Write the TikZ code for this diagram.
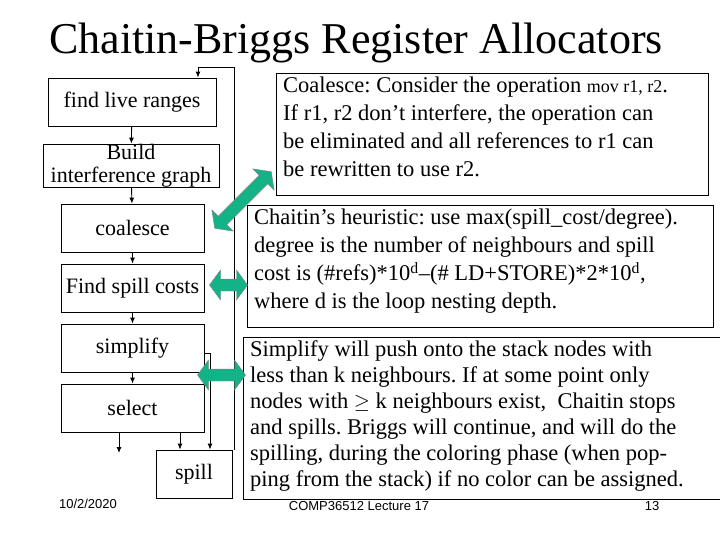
\documentclass[tikz,border=0pt]{standalone}
\usepackage{fontspec}
\setmainfont{Liberation Serif}
\setsansfont{Liberation Sans}
\usetikzlibrary{arrows.meta}
\definecolor{grn}{RGB}{20,178,135}
\frenchspacing
\newcommand{\dblarrow}[4]{% center x, center y, angle, half length
  \begin{scope}[shift={(#1,#2)},rotate=#3]
  \filldraw[fill=grn,draw=black!50,line width=0.4pt] (-#4,0) -- (-#4+11,-15) -- (-#4+11,-6) -- (#4-11,-6) -- (#4-11,-15) -- (#4,0) -- (#4-11,15) -- (#4-11,6) -- (-#4+11,6) -- (-#4+11,15) -- cycle;
  \end{scope}}
\begin{document}
\begin{tikzpicture}[x=1pt,y=-1pt,
  stage/.style={draw,line width=0.8pt,inner sep=0pt,font=\fontsize{22}{23}\selectfont,align=center},
  box/.style={draw,line width=0.8pt},
  txt/.style={anchor=north west,inner sep=0pt,align=left,font=\fontsize{22.5}{28}\selectfont},
  flow/.style={line width=0.9pt,-{Latex[length=6pt,width=5pt]}}]
\useasboundingbox (0,0) rectangle (720,540);
\node[font=\fontsize{44}{44}\selectfont,anchor=base] (title) at (356,54) {Chaitin-Briggs Register Allocators};
% stages
\node[stage,minimum width=168pt,minimum height=48pt] (flr) at (132,102) {find live ranges};
\node[stage,minimum width=176pt,minimum height=43pt] (bld) at (131,165.5) {Build\\interference graph};
\node[stage,minimum width=143pt,minimum height=48pt] (coa) at (132.5,228) {coalesce};
\node[stage,minimum width=143pt,minimum height=48pt] (fsc) at (132.5,288) {Find spill costs};
\node[stage,minimum width=143pt,minimum height=48pt] (smp) at (132.5,348) {simplify};
\node[stage,minimum width=143pt,minimum height=48pt] (sel) at (132.5,408) {select};
\node[stage,minimum width=76pt,minimum height=48pt] (spl) at (194,474) {spill};
% flows
\draw[flow] (flr) -- (bld);
\draw[flow] (bld) -- (coa);
\draw[flow] (coa) -- (fsc);
\draw[flow] (fsc) -- (smp);
\draw[flow] (smp) -- (sel);
\coordinate (out) at (119,453);
\draw[flow] (sel.south -| out) -- (out);
\draw[flow] (sel.south -| 180,0) -- (spl.north -| 180,0);
\draw[flow] (smp.east |- 0,353) -- (210,353) -- (spl.north -| 210,0);
\draw[flow] (spl.north east -| 234,0) -- (234,67) -- (198,67) -- (flr.north -| 198,0);
% text boxes
\draw[box] (276,73) rectangle (708,195);
\node[txt] (b1) at (283,77) {Coalesce: Consider the operation {\fontsize{18}{20}\selectfont mov r1, r2}.\\If r1, r2 don’t interfere, the operation can\\be eliminated and all references to r1 can\\be rewritten to use r2.};
\draw[box] (247,205) rectangle (713,327);
\node[txt] (b2) at (254,209) {Chaitin’s heuristic: use max(spill\_cost/degree).\\degree is the number of neighbours and spill\\cost is (\#refs)*10\textsuperscript{d}–(\# LD+STORE)*2*10\textsuperscript{d},\\where d is the loop nesting depth.};
\node[font=\sffamily\fontsize{13}{14}\selectfont] (date) at (88,504) {10/2/2020};
\node[font=\sffamily\fontsize{13}{14}\selectfont] (lec) at (359,506) {COMP36512 Lecture 17};
\node[font=\sffamily\fontsize{13}{14}\selectfont] (pg) at (652,506) {13};
\filldraw[box,fill=white] (243,337) rectangle (725,499);
\node[txt,font=\fontsize{22.5}{26}\selectfont] (b3) at (250,340) {Simplify will push onto the stack nodes with\\less than k neighbours. If at some point only\\nodes with $\geq$ k neighbours exist,\ \ Chaitin stops\\and spills. Briggs will continue, and will do the\\spilling, during the coloring phase (when pop-\\ping from the stack) if no color can be assigned.};
% green arrows
\dblarrow{243}{200}{45}{40}
\dblarrow{228.5}{285}{0}{19}
\dblarrow{221.5}{375}{0}{24}
\end{tikzpicture}
\end{document}
